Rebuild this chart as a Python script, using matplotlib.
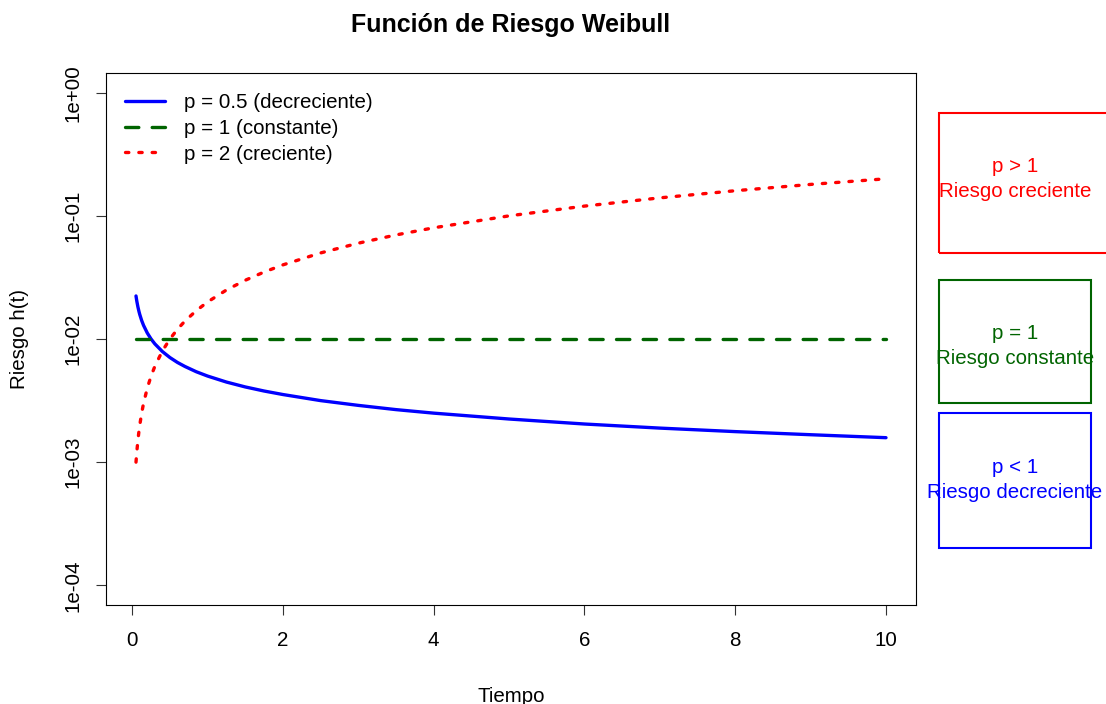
import matplotlib
matplotlib.use("Agg")
import matplotlib.pyplot as plt
from matplotlib.patches import Rectangle
import matplotlib.ticker as mticker

plt.rcParams['font.family'] = ['Liberation Sans', 'DejaVu Sans']

# Data
tiempo = [0.05, 0.06, 0.075, 0.09, 0.1, 0.125, 0.15, 0.2, 0.25, 0.3, 0.4, 0.5,
          0.6, 0.7, 0.85, 1.0, 1.25, 1.5, 1.75, 2.0, 2.5, 3.0, 3.5, 4.0, 5.0,
          6.0, 7.0, 8.0, 9.0, 10.0]
h_p05 = [0.02236, 0.02041, 0.01826, 0.01667, 0.01581, 0.01414, 0.01291, 0.01118,
         0.01000, 0.00913, 0.00791, 0.00707, 0.00645, 0.00598, 0.00542, 0.00500,
         0.00447, 0.00408, 0.00378, 0.00354, 0.00316, 0.00289, 0.00267, 0.00250,
         0.00224, 0.00204, 0.00189, 0.00177, 0.00167, 0.00158]
h_p1 = [0.01] * len(tiempo)
h_p2 = [0.001, 0.0012, 0.0015, 0.0018, 0.002, 0.0025, 0.003, 0.004, 0.005,
        0.006, 0.008, 0.010, 0.012, 0.014, 0.017, 0.020, 0.025, 0.030, 0.035,
        0.040, 0.050, 0.060, 0.070, 0.080, 0.100, 0.120, 0.140, 0.160, 0.180,
        0.200]
labels = ["p = 0.5 (decreciente)", "p = 1 (constante)", "p = 2 (creciente)"]
yticks = [1e-4, 1e-3, 1e-2, 1e-1, 1e0]
ytick_labels = ["1e-04", "1e-03", "1e-02", "1e-01", "1e+00"]
xticks = [0, 2, 4, 6, 8, 10]

box_text = ["p > 1\nRiesgo creciente", "p = 1\nRiesgo constante", "p < 1\nRiesgo decreciente"]
box_y0 = [0.05, 0.003, 0.0002]
box_y1 = [0.69, 0.030, 0.0025]
box_ty = [0.2, 0.0088, 0.00072]
box_x1 = [13.2, 12.72, 12.72]
box_colors = ["red", "darkgreen", "blue"]

W, H = 1106, 704
FS = 14.8
fig = plt.figure(figsize=(W / 100, H / 100), dpi=100)
ax = fig.add_axes([106 / W, 1 - 605 / H, (916 - 106) / W, (605 - 73) / H])

ax.plot(tiempo, h_p05, color="blue", lw=2.4, solid_capstyle="round", label=labels[0])
ax.plot(tiempo, h_p1, color="darkgreen", lw=2.4, linestyle=(0, (4, 4)),
        dash_capstyle="round", label=labels[1])
ax.plot(tiempo, h_p2, color="red", lw=2.4, linestyle=(0, (1, 3)),
        dash_capstyle="round", label=labels[2])

ax.set_yscale("log")
ax.set_ylim(10 ** -4.16, 10 ** 0.16)
ax.set_xlim(0.05 - 0.398, 10 + 0.398)
ax.yaxis.set_minor_locator(mticker.NullLocator())
ax.set_yticks(yticks)
ax.set_yticklabels(ytick_labels, rotation=90, va="center")
ax.set_xticks(xticks)
ax.set_xticklabels([str(x) for x in xticks])
ax.tick_params(axis="both", direction="out", length=7, width=0.8, labelsize=FS,
               color="#333333")
ax.tick_params(axis="x", pad=12)
ax.tick_params(axis="y", pad=10)
for s in ax.spines.values():
    s.set_linewidth(0.8)

leg = ax.legend(loc="upper left", frameon=False, fontsize=FS, handlelength=1.95,
                borderaxespad=0, labelspacing=0.33, handletextpad=0.9,
                borderpad=0, bbox_to_anchor=((125 - 106) / 810, 1 - (93 - 73) / 532))

for y0, y1, x1, ty, txt, c in zip(box_y0, box_y1, box_x1, box_ty, box_text, box_colors):
    r = Rectangle((10.70, y0), x1 - 10.70, y1 - y0, fill=False, edgecolor=c,
                  lw=1.5, clip_on=False, transform=ax.transData)
    ax.add_patch(r)
    ax.text(11.71, ty, txt, color=c, ha="center", va="center", fontsize=FS,
            linespacing=1.4, clip_on=False)

fig.text(511 / W, 1 - 25 / H, "Función de Riesgo Weibull", ha="center", va="center",
         fontsize=18, fontweight="bold")
fig.text(511 / W, 1 - 696 / H, "Tiempo", ha="center", va="center", fontsize=FS)
fig.text(20 / W, 1 - 339 / H, "Riesgo h(t)", ha="center", va="center", fontsize=FS,
         rotation=90)

fig.savefig("out.png", dpi=100)
